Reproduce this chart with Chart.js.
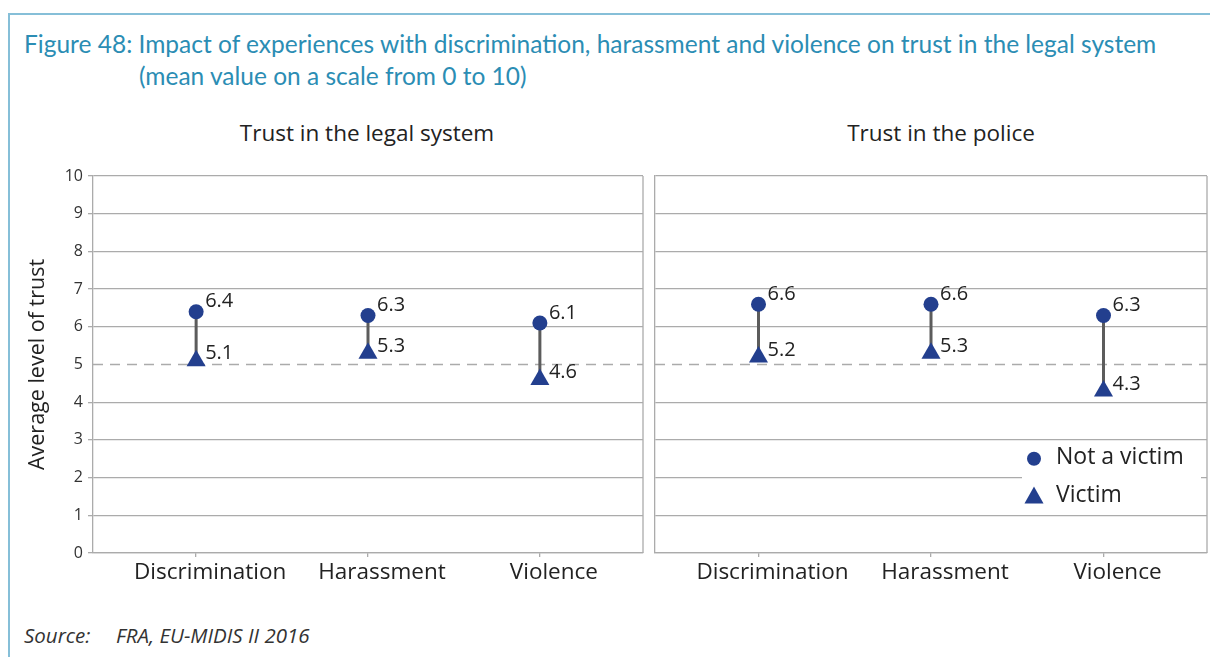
<!DOCTYPE html>
<html>
<head>
<meta charset="utf-8">
<script src="https://cdn.jsdelivr.net/npm/chart.js@4.4.1/dist/chart.umd.min.js"></script>
<style>
  html, body { margin: 0; padding: 0; background: #fff; }
  body { width: 1210px; height: 657px; position: relative; overflow: hidden; font-family: "Open Sans", sans-serif; }
  .frame { position: absolute; left: 8px; top: 13px; width: 1220px; height: 680px;
           border-left: 2px solid #86bfd8; border-top: 2px solid #86bfd8; }
  .title { position: absolute; left: 24px; top: 28px; color: #2b8db4; font-family: Lato, sans-serif;
           font-size: 24.5px; line-height: 32px; white-space: nowrap; }
  .title .l2 { padding-left: 115px; }
  .panel-title { position: absolute; top: 117px; font-size: 22.5px; color: #222; white-space: nowrap;
                 transform: translateX(-50%); }
  .source { position: absolute; left: 24px; top: 621px; font-style: italic; font-size: 20.5px; color: #333; }
  .source span { display: inline-block; width: 92px; }
  canvas { position: absolute; }
</style>
</head>
<body>
<div class="frame"></div>
<div class="title">Figure 48: Impact of experiences with discrimination, harassment and violence on trust in the legal system<br><span class="l2">(mean value on a scale from 0 to 10)</span></div>
<div class="panel-title" style="left:367px">Trust in the legal system</div>
<div class="panel-title" style="left:941px">Trust in the police</div>
<canvas id="legal" width="660" height="470" style="left:0;top:150px"></canvas>
<canvas id="police" width="618" height="470" style="left:600px;top:150px"></canvas>
<div class="source"><span>Source:</span>FRA, EU-MIDIS II 2016</div>

<script>
// Categories and mean trust values (scale 0–10)
const categories = ['Discrimination', 'Harassment', 'Violence'];
const legalNotVictim = [6.4, 6.3, 6.1];
const legalVictim = [5.1, 5.3, 4.6];
const policeNotVictim = [6.6, 6.6, 6.3];
const policeVictim = [5.2, 5.3, 4.3];
const yTickValues = [0, 1, 2, 3, 4, 5, 6, 7, 8, 9, 10];
const referenceLevel = 5;
const seriesNames = ['Not a victim', 'Victim'];

const MARK = '#233f8e';
const GRID = '#ababab';
const FONT = '"Open Sans", sans-serif';

function points(values) {
  return values.map((v, i) => ({ x: i, y: v }));
}

// vertical connector between the two values of each category, broken by null gaps
function stems(a, b) {
  const out = [];
  a.forEach((v, i) => { out.push({ x: i, y: v }, { x: i, y: b[i] }, { x: i, y: null }); });
  return out;
}

// value labels next to each marker
const valueLabels = {
  id: 'valueLabels',
  afterDatasetsDraw(chart) {
    const ctx = chart.ctx;
    ctx.save();
    ctx.font = '20px ' + FONT;
    ctx.fillStyle = '#222';
    ctx.textBaseline = 'middle';
    ctx.textAlign = 'left';
    chart.data.datasets.forEach((ds, di) => {
      if (!ds.labelShift) return;
      chart.getDatasetMeta(di).data.forEach((pt, i) => {
        ctx.fillText(ds.data[i].y.toFixed(1), pt.x + ds.labelShift[0], pt.y + ds.labelShift[1]);
      });
    });
    ctx.restore();
  }
};

// panel frame (right edge) and dashed reference line
const panelFrame = {
  id: 'panelFrame',
  beforeDatasetsDraw(chart) {
    const { ctx, chartArea: a, scales } = chart;
    ctx.save();
    ctx.strokeStyle = GRID;
    ctx.lineWidth = 1.3;
    ctx.beginPath();
    ctx.moveTo(a.right, a.top);
    ctx.lineTo(a.right, a.bottom);
    ctx.stroke();
    const yRef = scales.y.getPixelForValue(referenceLevel);
    ctx.setLineDash([10, 7]);
    ctx.beginPath();
    ctx.moveTo(a.left, yRef);
    ctx.lineTo(a.right, yRef);
    ctx.stroke();
    ctx.restore();
  }
};

// legend box drawn inside the plot area
const innerLegend = {
  id: 'innerLegend',
  afterDatasetsDraw(chart, args, opts) {
    if (!opts.show) return;
    const { ctx, chartArea: a, scales } = chart;
    const boxLeft = a.right - 185;
    const boxTop = scales.y.getPixelForValue(2.85);
    const boxBottom = scales.y.getPixelForValue(1.1);
    ctx.save();
    ctx.fillStyle = '#fff';
    ctx.fillRect(boxLeft, boxTop, a.right - boxLeft - 6, boxBottom - boxTop);
    const rows = [scales.y.getPixelForValue(2.5), scales.y.getPixelForValue(1.5)];
    const mx = boxLeft + 12;
    ctx.fillStyle = MARK;
    ctx.beginPath();
    ctx.arc(mx, rows[0], 7, 0, Math.PI * 2);
    ctx.fill();
    ctx.beginPath();
    ctx.moveTo(mx, rows[1] - 10);
    ctx.lineTo(mx + 9.5, rows[1] + 7);
    ctx.lineTo(mx - 9.5, rows[1] + 7);
    ctx.closePath();
    ctx.fill();
    ctx.fillStyle = '#222';
    ctx.font = '23px ' + FONT;
    ctx.textBaseline = 'middle';
    ctx.fillText(seriesNames[0], boxLeft + 34, rows[0] - 1);
    ctx.fillText(seriesNames[1], boxLeft + 34, rows[1] - 1);
    ctx.restore();
  }
};

function buildChart(id, notVictim, victim, opts) {
  return new Chart(document.getElementById(id), {
    type: 'scatter',
    data: {
      datasets: [
        {
          label: seriesNames[0], data: points(notVictim), order: 0,
          pointStyle: 'circle', pointRadius: 7.5, pointHoverRadius: 7.5,
          backgroundColor: MARK, borderColor: MARK, borderWidth: 0,
          labelShift: [9, -10]
        },
        {
          label: seriesNames[1], data: points(victim), order: 1,
          pointStyle: 'triangle', pointRadius: 11, pointHoverRadius: 11,
          backgroundColor: MARK, borderColor: MARK, borderWidth: 0,
          labelShift: [9, -7]
        },
        {
          label: 'range', data: stems(victim, notVictim), order: 2,
          showLine: true, spanGaps: false, pointRadius: 0,
          borderColor: '#5c5c5c', borderWidth: 3
        }
      ]
    },
    options: {
      responsive: false,
      animation: false,
      layout: { padding: { top: 26, right: opts.rightPad, bottom: 0, left: 0 } },
      plugins: {
        legend: { display: false },
        tooltip: { enabled: false },
        innerLegend: { show: opts.legend }
      },
      scales: {
        x: {
          type: 'linear', min: -0.6, max: 2.6,
          afterBuildTicks: s => { s.ticks = categories.map((c, i) => ({ value: i })); },
          ticks: {
            callback: (v, i) => categories[i],
            font: { family: FONT, size: 22.5 }, color: '#222',
            padding: 2, labelOffset: 14, maxRotation: 0, autoSkip: false
          },
          grid: { drawOnChartArea: false, drawTicks: true, tickLength: 4, color: GRID, lineWidth: 1.3 },
          border: { display: true, color: GRID, width: 1.3 },
          afterFit: s => { s.height = 67; s.paddingLeft = 0; s.paddingRight = 0; }
        },
        y: {
          min: 0, max: 10,
          afterBuildTicks: s => { s.ticks = yTickValues.map(v => ({ value: v })); },
          ticks: { display: opts.yLabels, font: { family: FONT, size: 16 }, color: '#333', padding: 5 },
          grid: {
            color: c => (c.tick && c.tick.value === referenceLevel) ? 'rgba(0,0,0,0)' : GRID,
            lineWidth: 1.3, drawTicks: opts.yLabels, tickLength: 5
          },
          border: { display: true, color: GRID, width: 1.3 },
          title: {
            display: opts.yLabels, text: 'Average level of trust',
            font: { family: FONT, size: 21.5 }, color: '#222', padding: { top: 25, bottom: 0 }
          },
          afterFit: s => { s.width = opts.axisWidth; }
        }
      }
    },
    plugins: [panelFrame, valueLabels, innerLegend]
  });
}

buildChart('legal', legalNotVictim, legalVictim, { axisWidth: 93, rightPad: 17, yLabels: true, legend: false });
buildChart('police', policeNotVictim, policeVictim, { axisWidth: 55, rightPad: 5, yLabels: false, legend: true });
</script>
</body>
</html>
